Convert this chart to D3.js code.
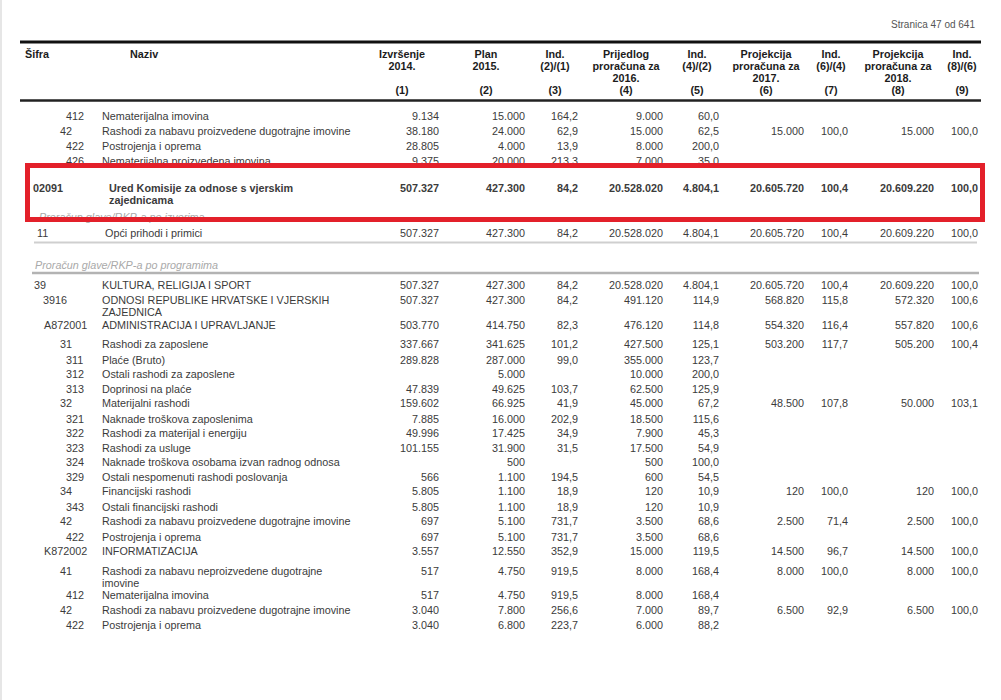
<!DOCTYPE html>
<html>
<head>
<meta charset="utf-8">
<script src="https://cdn.jsdelivr.net/npm/d3@7"></script>
<style>
body { margin: 0; background: #fff; }
svg { display: block; font-family: "Liberation Sans", Arial, sans-serif; }
</style>
</head>
<body>
<script>
// header labels for the numeric columns
const colHeads = [
  ["Izvršenje", "2014."], ["Plan", "2015."], ["Ind.", "(2)/(1)"],
  ["Prijedlog", "proračuna za", "2016."], ["Ind.", "(4)/(2)"],
  ["Projekcija", "proračuna za", "2017."], ["Ind.", "(6)/(4)"],
  ["Projekcija", "proračuna za", "2018."], ["Ind.", "(8)/(6)"]
];
const colNums = ["(1)", "(2)", "(3)", "(4)", "(5)", "(6)", "(7)", "(8)", "(9)"];

// rows
const codes = ["412", "42", "422", "426", "02091", "11", "39", "3916", "A872001", "31", "311", "312", "313",
  "32", "321", "322", "323", "324", "329", "34", "343", "42", "422", "K872002", "41", "412", "42", "422"];
const names = [
  "Nematerijalna imovina",
  "Rashodi za nabavu proizvedene dugotrajne imovine",
  "Postrojenja i oprema",
  "Nematerijalna proizvedena imovina",
  "Ured Komisije za odnose s vjerskim zajednicama",
  "Opći prihodi i primici",
  "KULTURA, RELIGIJA I SPORT",
  "ODNOSI REPUBLIKE HRVATSKE I VJERSKIH ZAJEDNICA",
  "ADMINISTRACIJA I UPRAVLJANJE",
  "Rashodi za zaposlene",
  "Plaće (Bruto)",
  "Ostali rashodi za zaposlene",
  "Doprinosi na plaće",
  "Materijalni rashodi",
  "Naknade troškova zaposlenima",
  "Rashodi za materijal i energiju",
  "Rashodi za usluge",
  "Naknade troškova osobama izvan radnog odnosa",
  "Ostali nespomenuti rashodi poslovanja",
  "Financijski rashodi",
  "Ostali financijski rashodi",
  "Rashodi za nabavu proizvedene dugotrajne imovine",
  "Postrojenja i oprema",
  "INFORMATIZACIJA",
  "Rashodi za nabavu neproizvedene dugotrajne imovine",
  "Nematerijalna imovina",
  "Rashodi za nabavu proizvedene dugotrajne imovine",
  "Postrojenja i oprema"
];
const kinds = ["r3", "r2", "r3", "r3", "glava", "izvor", "funkcija", "program", "aktivnost", "r2", "r3", "r3", "r3",
  "r2", "r3", "r3", "r3", "r3", "r3", "r2", "r3", "r2", "r3", "aktivnost", "r2", "r3", "r2", "r3"];

const izvrsenje2014 = [9134, 38180, 28805, 9375, 507327, 507327, 507327, 507327, 503770, 337667, 289828, null, 47839,
  159602, 7885, 49996, 101155, null, 566, 5805, 5805, 697, 697, 3557, 517, 517, 3040, 3040];
const plan2015 = [15000, 24000, 4000, 20000, 427300, 427300, 427300, 427300, 414750, 341625, 287000, 5000, 49625,
  66925, 16000, 17425, 31900, 500, 1100, 1100, 1100, 5100, 5100, 12550, 4750, 4750, 7800, 6800];
const ind21 = [164.2, 62.9, 13.9, 213.3, 84.2, 84.2, 84.2, 84.2, 82.3, 101.2, 99.0, null, 103.7,
  41.9, 202.9, 34.9, 31.5, null, 194.5, 18.9, 18.9, 731.7, 731.7, 352.9, 919.5, 919.5, 256.6, 223.7];
const prijedlog2016 = [9000, 15000, 8000, 7000, 20528020, 20528020, 20528020, 491120, 476120, 427500, 355000, 10000, 62500,
  45000, 18500, 7900, 17500, 500, 600, 120, 120, 3500, 3500, 15000, 8000, 8000, 7000, 6000];
const ind42 = [60.0, 62.5, 200.0, 35.0, 4804.1, 4804.1, 4804.1, 114.9, 114.8, 125.1, 123.7, 200.0, 125.9,
  67.2, 115.6, 45.3, 54.9, 100.0, 54.5, 10.9, 10.9, 68.6, 68.6, 119.5, 168.4, 168.4, 89.7, 88.2];
const projekcija2017 = [null, 15000, null, null, 20605720, 20605720, 20605720, 568820, 554320, 503200, null, null, null,
  48500, null, null, null, null, null, 120, null, 2500, null, 14500, 8000, null, 6500, null];
const ind64 = [null, 100.0, null, null, 100.4, 100.4, 100.4, 115.8, 116.4, 117.7, null, null, null,
  107.8, null, null, null, null, null, 100.0, null, 71.4, null, 96.7, 100.0, null, 92.9, null];
const projekcija2018 = [null, 15000, null, null, 20609220, 20609220, 20609220, 572320, 557820, 505200, null, null, null,
  50000, null, null, null, null, null, 120, null, 2500, null, 14500, 8000, null, 6500, null];
const ind86 = [null, 100.0, null, null, 100.0, 100.0, 100.0, 100.6, 100.6, 100.4, null, null, null,
  103.1, null, null, null, null, null, 100.0, null, 100.0, null, 100.0, 100.0, null, 100.0, null];

const valueCols = [izvrsenje2014, plan2015, ind21, prijedlog2016, ind42, projekcija2017, ind64, projekcija2018, ind86];

const W = 1001, H = 700;
const fs = 10.8;
const textCol = "#3b3b3b";

const loc = d3.formatLocale({decimal: ",", thousands: ".", grouping: [3], currency: ["", ""]});
const fAmt = loc.format(",.0f");
const fInd = loc.format(",.1f");

// column placement
const colIdx = d3.range(valueCols.length);
const xRight = d3.scaleOrdinal().domain(colIdx).range([439, 525, 578, 663, 719, 804, 848, 934, 978]);
const xHead = d3.scaleOrdinal().domain(colIdx).range([402, 486, 555, 626, 697, 766, 831, 898, 962]);
const codeX = d3.scaleOrdinal()
  .domain(["r3", "r2", "glava", "izvor", "funkcija", "program", "aktivnost"])
  .range([66, 60, 33, 37, 34, 43, 44]);
const nameX = d3.scaleOrdinal()
  .domain(["r3", "r2", "glava", "izvor", "funkcija", "program", "aktivnost"])
  .range([102, 102, 109, 105, 102, 102, 102]);
const nameRight = 356;

const svg = d3.select("body").append("svg")
  .attr("width", W)
  .attr("height", H);

svg.append("rect").attr("width", W).attr("height", H).attr("fill", "#fff");
svg.append("line").attr("x1", 1).attr("x2", 1).attr("y1", 0).attr("y2", H)
  .attr("stroke", "#e6e6e6").attr("stroke-width", 2);

svg.append("text")
  .attr("x", 975).attr("y", 28)
  .attr("text-anchor", "end")
  .attr("font-size", 10)
  .attr("fill", "#555")
  .text("Stranica 47 od 641");

// header
svg.append("line").attr("x1", 20).attr("x2", 981).attr("y1", 42).attr("y2", 42)
  .attr("stroke", "#111").attr("stroke-width", 3);
svg.append("line").attr("x1", 20).attr("x2", 981).attr("y1", 100.5).attr("y2", 100.5)
  .attr("stroke", "#222").attr("stroke-width", 2.5);

const head = svg.append("g")
  .attr("font-size", fs)
  .attr("font-weight", "bold")
  .attr("fill", "#1c1c1c");

head.append("text").attr("x", 25).attr("y", 58).text("Šifra");
head.append("text").attr("x", 130).attr("y", 58).text("Naziv");

head.selectAll("text.colhead")
  .data(colHeads)
  .enter()
  .append("text")
  .attr("class", "colhead")
  .attr("text-anchor", "middle")
  .attr("x", (d, i) => xHead(i))
  .attr("y", 58)
  .selectAll("tspan")
  .data(d => d)
  .enter()
  .append("tspan")
  .attr("x", function () { return d3.select(this.parentNode).attr("x"); })
  .attr("dy", (d, i) => i === 0 ? 0 : 12)
  .text(d => d);

head.selectAll("text.colnum")
  .data(colNums)
  .enter()
  .append("text")
  .attr("class", "colnum")
  .attr("text-anchor", "middle")
  .attr("x", (d, i) => xHead(i))
  .attr("y", 94)
  .text(d => d);

// body rows
const rows = svg.append("g")
  .attr("font-size", fs)
  .attr("fill", textCol);

const rowG = rows.selectAll("g.row")
  .data(codes.map((c, i) => i))
  .enter()
  .append("g")
  .attr("class", "row")
  .attr("font-weight", i => kinds[i] === "glava" ? "bold" : null);

rowG.append("text")
  .attr("x", i => codeX(kinds[i]))
  .attr("y", 4)
  .text(i => codes[i]);

// names, wrapped to column width
const lineCount = [];
rowG.append("text")
  .attr("x", i => nameX(kinds[i]))
  .attr("y", 4)
  .each(function (i) {
    const t = d3.select(this);
    const x = nameX(kinds[i]);
    const words = names[i].split(" ");
    let line = [];
    let ts = t.append("tspan").attr("x", x).attr("dy", 0);
    let n = 1;
    words.forEach(w => {
      line.push(w);
      ts.text(line.join(" "));
      if (x + ts.node().getComputedTextLength() > nameRight && line.length > 1) {
        line.pop();
        ts.text(line.join(" "));
        line = [w];
        ts = t.append("tspan").attr("x", x).attr("dy", 12).text(w);
        n++;
      }
    });
    lineCount[i] = n;
  });

rowG.each(function (i) {
  const g = d3.select(this);
  valueCols.forEach((col, c) => {
    const v = col[i];
    if (v == null) return;
    g.append("text")
      .attr("x", xRight(c))
      .attr("y", 4)
      .attr("text-anchor", "end")
      .text(c % 2 === 0 && c > 0 ? fInd(v) : fAmt(v));
  });
});

// vertical layout
const hasProj = i => projekcija2017[i] != null;
const step = i => {
  let s = 14.5;
  if (lineCount[i] > 1) s += (lineCount[i] - 1) * 10;
  else if (hasProj(i)) s += 1;
  if (kinds[i] === "aktivnost") s += 4;
  return s;
};
const yPos = [];
let cy = 116;
for (let i = 0; i < 4; i++) { yPos[i] = cy; cy += step(i); }
yPos[4] = yPos[3] + 27.5;
yPos[5] = yPos[4] + 45;
const yIzvori = yPos[4] + 29;
const yLine1 = yPos[5] + 9.5;
const yProgrami = yPos[5] + 32;
const yLine2 = yPos[5] + 40;
cy = yPos[5] + 51.5;
for (let i = 6; i < codes.length; i++) { yPos[i] = cy; cy += step(i); }

rowG.attr("transform", i => `translate(0,${yPos[i]})`);

const grey = svg.append("g")
  .attr("font-size", fs)
  .attr("font-style", "italic")
  .attr("fill", "#a9a9a9");
grey.append("text").attr("x", 39).attr("y", yIzvori + 4).text("Proračun glave/RKP-a po izvorima");
grey.append("text").attr("x", 35).attr("y", yProgrami + 4).text("Proračun glave/RKP-a po programima");

svg.append("line").attr("x1", 34).attr("x2", 977).attr("y1", yLine1).attr("y2", yLine1)
  .attr("stroke", "#cfcfcf").attr("stroke-width", 2);
svg.append("line").attr("x1", 32).attr("x2", 979).attr("y1", yLine2).attr("y2", yLine2)
  .attr("stroke", "#b3b3b3").attr("stroke-width", 2.5);

// highlight box round the chapter row
svg.append("rect")
  .attr("x", 27.5)
  .attr("y", yPos[4] - 22.5)
  .attr("width", 955)
  .attr("height", 54)
  .attr("fill", "none")
  .attr("stroke", "#e3202a")
  .attr("stroke-width", 5);
</script>
</body>
</html>
